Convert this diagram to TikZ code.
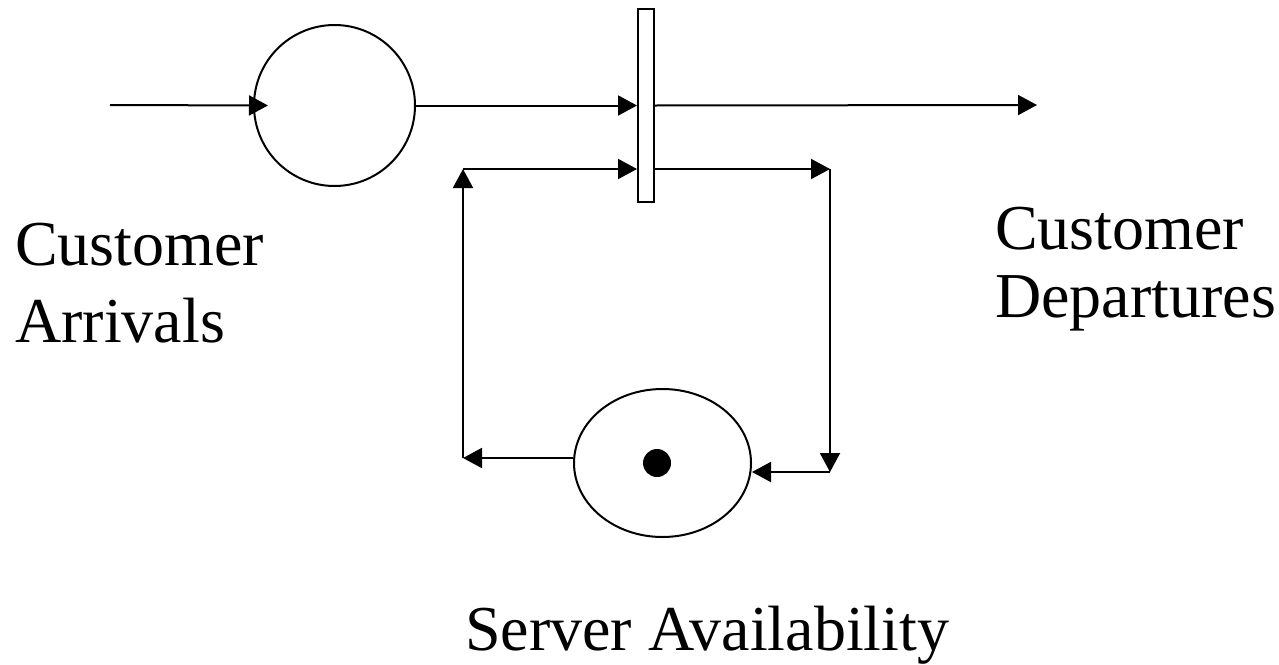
\documentclass[tikz,border=0pt]{standalone}
\usepackage{fontspec}
\setmainfont{Liberation Serif}
\usetikzlibrary{arrows.meta,shapes.geometric,calc}

\tikzset{
  place/.style={draw, line width=2pt, ellipse, inner sep=0pt},
  bar/.style={draw, line width=2pt, rectangle, inner sep=0pt, minimum width=16pt, minimum height=193pt},
  arc/.style={line width=2pt, -{Triangle[length=19pt,width=20pt]}},
  label/.style={anchor=base west, inner sep=0pt, font=\fontsize{64}{74}\selectfont}
}

\begin{document}
\begin{tikzpicture}[x=1pt, y=-1pt]
  \useasboundingbox (0,0) rectangle (1279,664);

  % places and the transition
  \node[place, minimum width=161pt, minimum height=161pt] (queue) at (334.5,105.5) {};
  \node[place, minimum width=177pt, minimum height=148pt] (server) at (662.5,463) {};
  \node[bar] (serve) at (646,105.5) {};
  \fill (657,463) circle (14pt);

  % free ends and corners of the feedback loop
  \coordinate (in)  at (110,105);
  \coordinate (out) at (1037,105);
  \coordinate (tl)  at (463,169);
  \coordinate (tr)  at (830,169);
  \coordinate (br)  at (830,472);
  \coordinate (bl)  at (463,458);

  % main flow
  \draw[arc] (in) -- ([xshift=15pt]queue.west);
  \draw[arc] (queue.east) -- (queue.east -| serve.west);
  \draw[arc] (queue.east -| serve.east) -- (out);

  % server loop
  \draw[arc] (tl) -- (tl -| serve.west);
  \draw[arc] (tl -| serve.east) -- (tr);
  \draw[arc] (tr) -- (br);
  \draw[arc] (br) -- (br -| server.east);
  \draw[arc] (bl -| server.west) -- (bl);
  \draw[arc] (bl) -- (tl);

  % labels
  \node[label] (ca1) at (15,265) {Customer};
  \node[label] (ca2) at (15,342) {Arrivals};
  \node[label] (cd1) at (995,249) {Customer};
  \node[label] (cd2) at (995,317) {Departures};
  \node[label] (sa)  at (465,650) {Server Availability};
\end{tikzpicture}
\end{document}
